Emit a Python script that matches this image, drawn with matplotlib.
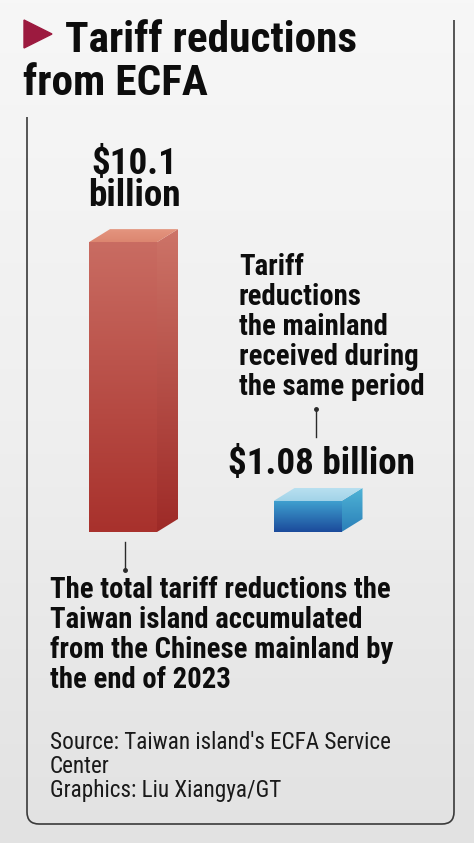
import matplotlib
matplotlib.use("Agg")
import numpy as np
import matplotlib.pyplot as plt
from matplotlib import font_manager as fm
from matplotlib.path import Path
from matplotlib.patches import PathPatch, Polygon
from matplotlib.colors import LinearSegmentedColormap

# ---------------- data ----------------
categories = ["Taiwan island (cumulative to end-2023)", "Chinese mainland (same period)"]
values = [10.1, 1.08]  # US$ billion
value_labels = ["$10.1\nbillion", "$1.08 billion"]
title_lines = ["Tariff reductions", "from ECFA"]
red_note = ["The total tariff reductions the",
            "Taiwan island accumulated",
            "from the Chinese mainland by",
            "the end of 2023"]
blue_note = ["Tariff", "reductions", "the mainland", "received during", "the same period"]
source_lines = ["Source: Taiwan island's ECFA Service", "Center", "Graphics: Liu Xiangya/GT"]

# ---------------- fonts ----------------
names = {f.name for f in fm.fontManager.ttflist}
FONT = "Roboto"
for cand in ["Liberation Sans Narrow", "DejaVu Sans Condensed", "Roboto Condensed", "Roboto"]:
    if cand in names:
        FONT = cand
        break
plt.rcParams["font.family"] = [FONT, "DejaVu Sans"]

W, H = 474, 843
fig = plt.figure(figsize=(W / 100, H / 100), dpi=100)
bg = fig.add_axes([0, 0, 1, 1])
bg.set_xlim(0, W)
bg.set_ylim(H, 0)
bg.axis("off")

# background gradient
grad = np.linspace(0, 1, 256).reshape(-1, 1)
bg_cmap = LinearSegmentedColormap.from_list("bg", ["#f7f7f7", "#efefef", "#e2e2e2"])
bg.imshow(grad, extent=(0, W, H, 0), cmap=bg_cmap, aspect="auto", zorder=0)

# frame (open at top)
r = 12
L, R, B = 27, 454, 824
verts = [(L, 117), (L, B - r), (L, B), (L + r, B), (R - r, B), (R, B), (R, B - r), (R, 20)]
codes = [Path.MOVETO, Path.LINETO, Path.CURVE3, Path.CURVE3, Path.LINETO, Path.CURVE3, Path.CURVE3, Path.LINETO]
bg.add_patch(PathPatch(Path(verts, codes), fill=False, edgecolor="#3a3a3a", lw=1.2, zorder=2))

# title triangle
bg.add_patch(Polygon([(24, 20), (24, 48), (52, 34)], closed=True, color="#9c1a3f", zorder=3))

renderer = fig.canvas.get_renderer()


def fit(t, target, k=1.0):
    w = t.get_window_extent(renderer).width
    t.set_fontsize(t.get_fontsize() * target / w * k)
    return t.get_fontsize()


# title
t1 = bg.text(65, 52, title_lines[0], fontsize=30, fontweight="bold", color="#0d0d0d",
             va="baseline", ha="left", zorder=5)
fs = fit(t1, 308, 0.95)
bg.text(23, 95, title_lines[1], fontsize=fs, fontweight="bold", color="#0d0d0d",
        va="baseline", ha="left", zorder=5)

# ---------------- bars ----------------
base_px = 532
px_per_unit = 28.7
ymax = 12
ax = fig.add_axes([0, (H - base_px) / H, 1, ymax * px_per_unit / H])
x0px, spacing = 123, 184.5
ax.set_xlim(-x0px / spacing, (W - x0px) / spacing)
ax.set_ylim(0, ymax)
ax.axis("off")
ax.patch.set_alpha(0)

bw = 68 / spacing
dx = 21 / spacing
dy = 13 / px_per_unit

styles = [
    dict(front=["#c96c62", "#a8312c"], side=["#cd7468", "#9e2a27"], top=["#e4957f", "#dc8670"]),
    dict(front=["#3fa0cf", "#1b4a9b"], side=["#4fb3d6", "#2a7fb8"], top=["#b8e0f0", "#a2d3e8"]),
]


def grad_fill(poly, colors, xr, yr):
    cmap = LinearSegmentedColormap.from_list("g", colors[::-1])
    im = ax.imshow(np.linspace(0, 1, 256).reshape(-1, 1), origin="lower",
                   extent=(xr[0], xr[1], yr[0], yr[1]), cmap=cmap, aspect="auto", zorder=3)
    patch = Polygon(poly, closed=True, facecolor="none", edgecolor="none")
    ax.add_patch(patch)
    im.set_clip_path(patch)


for i, (v, st) in enumerate(zip(values, styles)):
    xa, xb = i - bw / 2, i + bw / 2
    front = [(xa, 0), (xb, 0), (xb, v), (xa, v)]
    side = [(xb, 0), (xb + dx, dy), (xb + dx, v + dy), (xb, v)]
    top = [(xa, v), (xb, v), (xb + dx, v + dy), (xa + dx, v + dy)]
    grad_fill(front, st["front"], (xa, xb), (0, v))
    grad_fill(side, st["side"], (xb, xb + dx), (0, v + dy))
    grad_fill(top, st["top"], (xa, xb + dx), (v, v + dy))

ax.set_xlim(-x0px / spacing, (W - x0px) / spacing)
ax.set_ylim(0, ymax)

# value labels
vl = bg.text(322, 474, value_labels[1], fontsize=24, fontweight="bold", color="#0d0d0d",
             ha="center", va="baseline", parse_math=False, zorder=5)
vfs = fit(vl, 200, 0.94)
# two-line label over the red bar, baseline gap ~31 px
probe = bg.text(0, 0, "lp", fontsize=vfs, fontweight="bold")
lp_h = probe.get_window_extent(renderer).height
probe.remove()
bg.text(134, 214, value_labels[0], fontsize=vfs, fontweight="bold", color="#0d0d0d",
        ha="center", va="bottom", multialignment="center", linespacing=31 / lp_h,
        parse_math=False, zorder=5)

# leader lines
bg.plot([125, 125], [542, 570], color="#2a2a2a", lw=1.0, zorder=4)
bg.plot([125], [570], marker="o", ms=2.5, color="#2a2a2a", zorder=4)
bg.plot([316, 316], [409, 437], color="#2a2a2a", lw=1.0, zorder=4)
bg.plot([316], [409], marker="o", ms=2.5, color="#2a2a2a", zorder=4)

# blue note
ts = [bg.text(239, 275 + 30 * k, s, fontsize=18, fontweight="bold", color="#0d0d0d",
              ha="left", va="baseline", zorder=5) for k, s in enumerate(blue_note)]
bfs = fit(ts[-1], 191, 0.97)
for t in ts:
    t.set_fontsize(bfs)

# red note
ts = [bg.text(50, 598 + 30 * k, s, fontsize=18, fontweight="bold", color="#0d0d0d",
              ha="left", va="baseline", zorder=5) for k, s in enumerate(red_note)]
rfs = fit(ts[2], 353, 0.97)
for t in ts:
    t.set_fontsize(rfs)

# source
ts = [bg.text(50, 749 + 24 * k, s, fontsize=14, color="#1a1a1a",
              ha="left", va="baseline", zorder=5) for k, s in enumerate(source_lines)]
sfs = fit(ts[0], 342)
for t in ts:
    t.set_fontsize(sfs)

fig.savefig("out.png", dpi=100)
